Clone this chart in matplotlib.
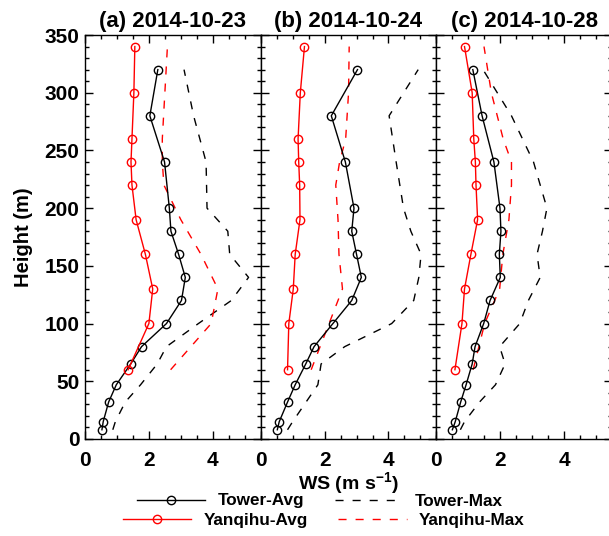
import matplotlib.pyplot as plt
from matplotlib.ticker import MultipleLocator
from matplotlib.lines import Line2D

plt.rcParams['font.family'] = ['Liberation Sans', 'DejaVu Sans']
plt.rcParams['font.weight'] = 'bold'
plt.rcParams['mathtext.default'] = 'regular'

# heights (m)
tower_h = [8, 15, 32, 47, 65, 80, 100, 120, 140, 160, 180, 200, 240, 280, 320]
yqh_h = [60, 100, 130, 160, 190, 220, 240, 260, 300, 340]

titles = ['(a) 2014-10-23', '(b) 2014-10-24', '(c) 2014-10-28']

# wind speed (m/s), one list per day
tower_avg = [
    [0.53, 0.57, 0.74, 0.98, 1.43, 1.77, 2.55, 3.02, 3.14, 2.93, 2.69, 2.64, 2.49, 2.03, 2.28],
    [0.52, 0.58, 0.84, 1.08, 1.41, 1.67, 2.26, 2.85, 3.15, 3.00, 2.85, 2.92, 2.65, 2.21, 3.03],
    [0.50, 0.59, 0.76, 0.93, 1.12, 1.21, 1.48, 1.68, 2.00, 1.97, 2.02, 1.99, 1.80, 1.43, 1.14],
]
tower_max = [
    [0.87, 0.95, 1.26, 1.74, 2.26, 2.55, 3.55, 4.58, 5.12, 4.53, 4.47, 3.82, 3.79, 3.40, 3.10],
    [0.84, 1.00, 1.42, 1.79, 1.89, 2.63, 4.10, 4.79, 4.95, 5.02, 4.70, 4.47, 4.24, 4.02, 4.93],
    [0.75, 0.88, 1.35, 1.85, 2.15, 1.98, 2.61, 2.88, 3.25, 3.15, 3.32, 3.46, 3.04, 2.35, 1.46],
]
yqh_avg = [
    [1.35, 2.00, 2.12, 1.89, 1.60, 1.47, 1.44, 1.47, 1.53, 1.56],
    [0.84, 0.88, 1.02, 1.08, 1.23, 1.22, 1.19, 1.17, 1.24, 1.37],
    [0.58, 0.80, 0.88, 1.08, 1.29, 1.24, 1.22, 1.17, 1.12, 0.88],
]
yqh_max = [
    [2.68, 3.95, 4.16, 3.63, 3.00, 2.47, 2.42, 2.42, 2.50, 2.58],
    [1.58, 2.14, 2.56, 2.45, 2.42, 2.35, 2.47, 2.66, 2.75, 2.77],
    [1.15, 1.51, 1.98, 2.08, 2.27, 2.35, 2.35, 2.09, 1.72, 1.49],
]

dash = (0, (5.8, 6.5))

fig = plt.figure(figsize=(6.09, 5.36), dpi=100)
w = 175.7 / 609
for i in range(3):
    ax = fig.add_axes([85 / 609 + i * w, 0.181, w, 0.7537])
    ax.plot(tower_max[i], tower_h, color='black', lw=1.0, linestyle=dash)
    ax.plot(yqh_max[i], yqh_h, color='red', lw=1.0, linestyle=dash)
    ax.plot(tower_avg[i], tower_h, color='black', lw=1.0, marker='o', ms=6,
            mfc='none', mec='black', mew=1.0)
    ax.plot(yqh_avg[i], yqh_h, color='red', lw=1.0, marker='o', ms=6,
            mfc='none', mec='red', mew=1.0)
    ax.set_xlim(0, 5.5)
    ax.set_ylim(0, 350)
    ax.set_xticks([0, 2, 4])
    ax.xaxis.set_minor_locator(MultipleLocator(0.5))
    ax.yaxis.set_major_locator(MultipleLocator(50))
    ax.yaxis.set_minor_locator(MultipleLocator(10))
    ax.tick_params(which='both', direction='in', top=True, right=True, width=1.0)
    ax.tick_params(which='major', length=6)
    ax.tick_params(which='minor', length=3)
    ax.tick_params(axis='x', which='major', pad=9, labelsize=15)
    ax.tick_params(axis='y', which='major', pad=4, labelsize=15)
    for s in ax.spines.values():
        s.set_linewidth(1.0)
    ax.set_title(titles[i], fontsize=16, fontweight='bold', pad=6)
    if i == 0:
        ax.set_ylabel('Height (m)', fontsize=14.5, fontweight='bold', labelpad=8)
    else:
        ax.set_yticklabels([])

fig.text(348 / 609, 1 - 483 / 536, 'WS (m s$^{-1}$)', ha='center', va='center',
         fontsize=14, fontweight='bold')

# legend, one row per site as in the original
row1 = [Line2D([], [], color='black', lw=1.0, marker='o', ms=6, mfc='none'),
        Line2D([], [], color='black', lw=1.0, linestyle=dash)]
row2 = [Line2D([], [], color='red', lw=1.0, marker='o', ms=6, mfc='none'),
        Line2D([], [], color='red', lw=1.0, linestyle=dash)]
opts = dict(ncol=2, loc='center left', frameon=False, fontsize=12.3, handlelength=4,
            handletextpad=0.7, columnspacing=1.8, borderpad=0, borderaxespad=0)
fig.legend(row1, ['Tower-Avg', 'Tower-Max'], bbox_to_anchor=(137 / 609, 1 - 501 / 536), **opts)
fig.legend(row2, ['Yanqihu-Avg', 'Yanqihu-Max'], bbox_to_anchor=(123 / 609, 1 - 520 / 536), **opts)

fig.savefig('out.png', dpi=100)
